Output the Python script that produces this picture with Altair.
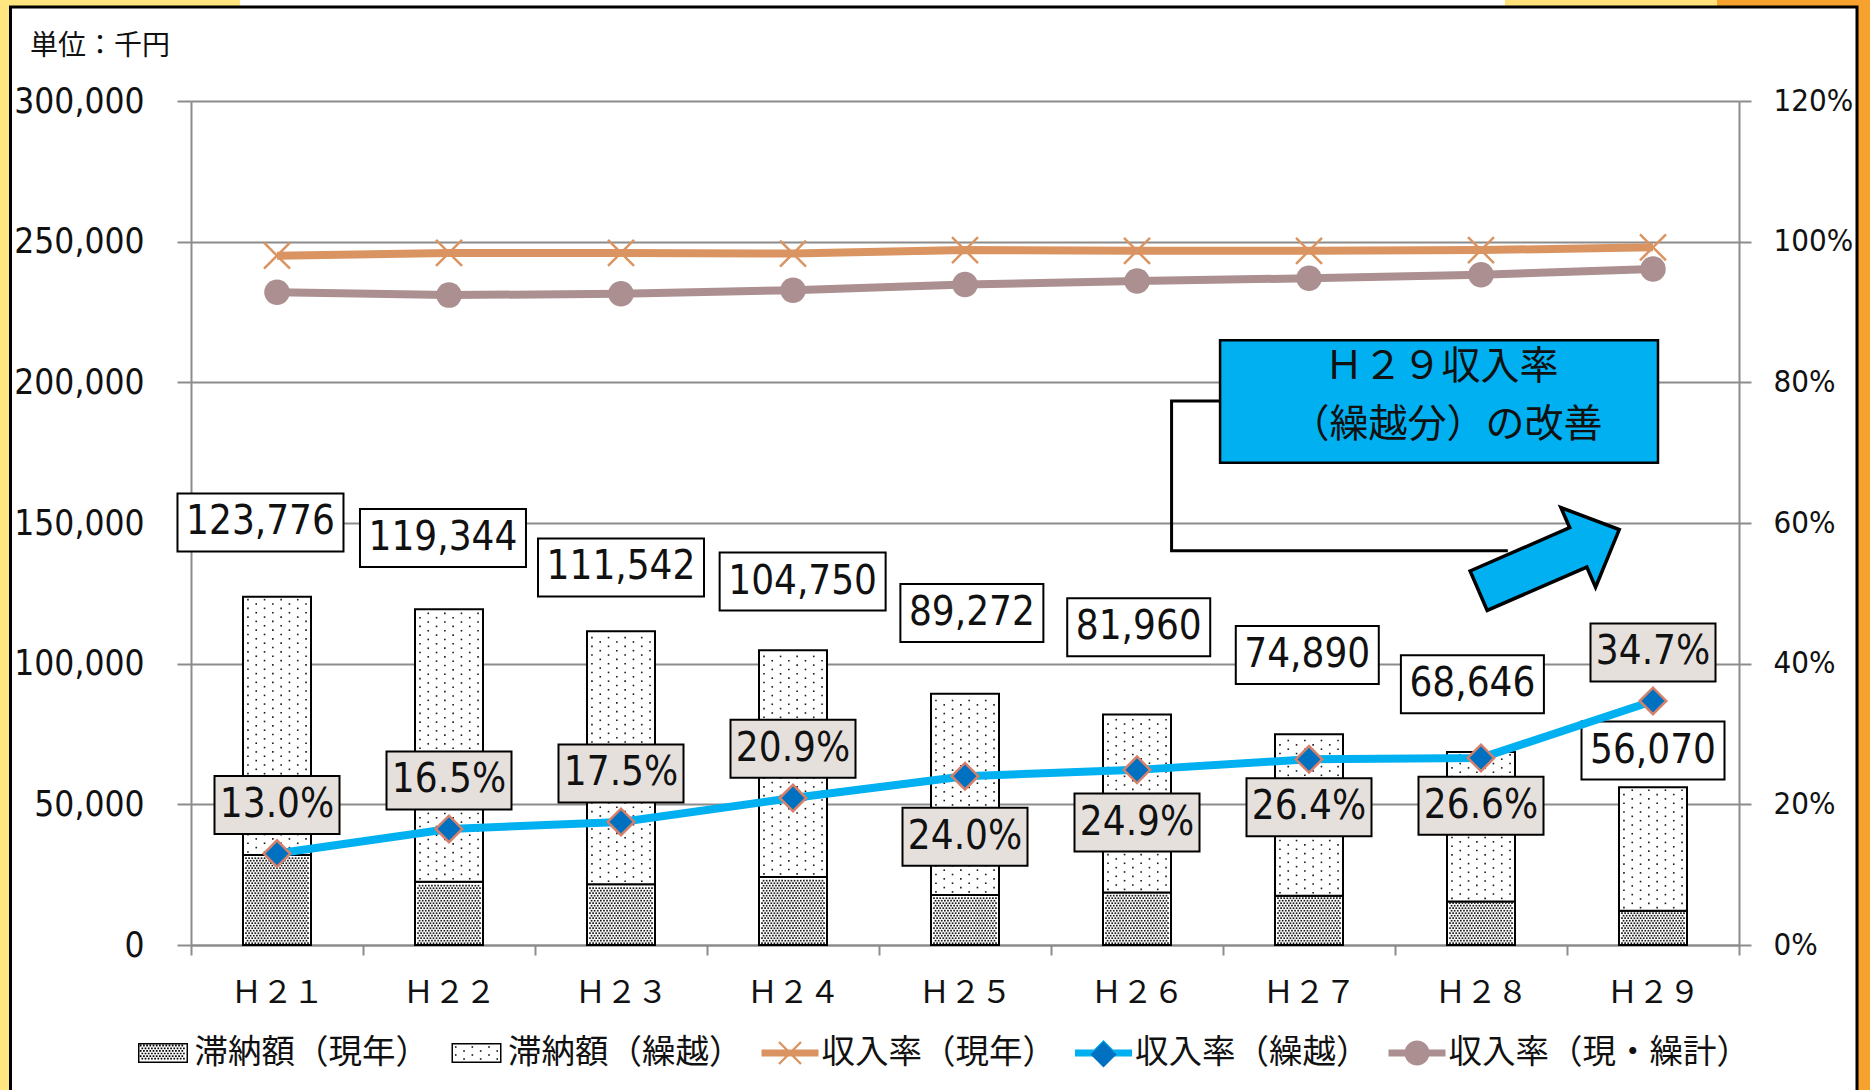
import json
import math
import altair as alt
import pandas as pd

# ---------------- data ----------------
years = ["Ｈ２１", "Ｈ２２", "Ｈ２３", "Ｈ２４", "Ｈ２５", "Ｈ２６", "Ｈ２７", "Ｈ２８", "Ｈ２９"]
totals = [123776, 119344, 111542, 104750, 89272, 81960, 74890, 68646, 56070]
current_arrears = [32000, 22500, 21600, 24200, 17800, 18700, 17500, 15500, 12200]
rate_current = [98.0, 98.4, 98.4, 98.3, 98.8, 98.7, 98.7, 98.8, 99.2]
rate_carried = [13.0, 16.5, 17.5, 20.9, 24.0, 24.9, 26.4, 26.6, 34.7]
rate_combined = [92.8, 92.4, 92.6, 93.1, 93.9, 94.4, 94.8, 95.3, 96.1]
legend_names = ["滞納額（現年）", "滞納額（繰越）", "収入率（現年）", "収入率（繰越）", "収入率（現・繰計）"]
unit_label = "単位：千円"
callout_lines = ["Ｈ２９収入率", "（繰越分）の改善"]

# label placement (annotation layout, data units)
total_label_x = [-0.096, 0.965, 2.0, 3.056, 4.04, 5.01, 5.99, 6.95, 8.0]
total_label_y = [150200, 144700, 134200, 129200, 118000, 112900, 103100, 92700, 69100]
rate_label_y = [0.199, 0.234, 0.244, 0.279, 0.154, 0.174, 0.196, 0.198, 0.416]
callout_x = [6.77, 6.80]
callout_y = [205500, 184800]

# ---------------- layout / style ----------------
n = len(years)
W, H = 1548, 844
PAD = {"left": 191, "top": 101, "right": 131, "bottom": 145}
X_DOMAIN = [-0.5, n - 0.5]
PX_X = W / n                # px per x unit
LEFT_MAX = 300000
RIGHT_MAX = 1.2
PX_L = LEFT_MAX / H         # data per px (left)
PX_R = RIGHT_MAX / H        # data per px (right)

GRID = "#8C8C8C"
TXT = "#111111"
ORANGE = "#DA9462"
BLUE = "#00B0F0"
MAUVE = "#AC8F90"
DIAMOND_FILL = "#0070C0"
DIAMOND_STROKE = "#D5806A"
RATE_BOX = "#E6E0DD"
NUM_FONT = "DejaVu Sans Condensed, Liberation Sans Narrow, Roboto, sans-serif"
CJK_FONT = "Noto Sans CJK JP"

xs = alt.Scale(domain=X_DOMAIN, nice=False, zero=False, padding=0)
ysl = alt.Scale(domain=[0, LEFT_MAX], nice=False, padding=0)
ysr = alt.Scale(domain=[0, RIGHT_MAX], nice=False, padding=0)

x_axis = alt.Axis(
    values=[i - 0.5 for i in range(n + 1)],
    labelExpr=f"datum.value < {n - 1} ? {json.dumps(years, ensure_ascii=False)}[round(datum.value + 0.5)] : ''",
    labelOffset=PX_X / 2, labelFlush=False, labelOverlap=False, labelBound=False,
    grid=False, domainColor=GRID, domainWidth=2, tickColor=GRID, tickWidth=2, tickSize=10,
    labelFont=CJK_FONT, labelFontSize=31, labelColor=TXT, labelPadding=38.5,
    labelBaseline="middle", title=None,
)
left_axis = alt.Axis(
    values=list(range(0, LEFT_MAX + 1, 50000)), labelExpr="format(datum.value, ',')",
    grid=True, gridColor=GRID, gridWidth=2, domainColor=GRID, domainWidth=2, tickColor=GRID,
    tickWidth=2, tickSize=14, labelFont=NUM_FONT, labelFontSize=35, labelColor=TXT,
    labelPadding=33, labelOverlap=False, title=None,
)
right_axis = alt.Axis(
    orient="right", values=[round(i * 0.2, 1) for i in range(7)],
    labelExpr="format(datum.value, '.0%')", grid=False,
    domainColor=GRID, domainWidth=2, tickColor=GRID, tickWidth=2, tickSize=12,
    labelFont=NUM_FONT, labelFontSize=31, labelColor=TXT, labelPadding=22, labelOverlap=False,
    title=None,
)


def X(field):
    return alt.X(field, type="quantitative", scale=xs, axis=x_axis)


def YL(field):
    return alt.Y(field, type="quantitative", scale=ysl, axis=left_axis)


def YR(field):
    return alt.Y(field, type="quantitative", scale=ysr, axis=right_axis)


one = alt.Data(values=[{"a": 1}])


def deco_rect(x0, x1, y0, y1, **kw):
    return alt.Chart(one).mark_rect(**kw).encode(
        x=alt.value(x0), x2=alt.value(x1), y=alt.value(y0), y2=alt.value(y1))


# ---------------- page decoration ----------------
deco = [
    deco_rect(-191, -181, -101, 989, fill="#FFE680"),
    deco_rect(-191, 49, -101, -95, fill="#FFE680"),
    deco_rect(1314, 1526, -101, -95, fill="#FFE27A"),
    deco_rect(1526, 1679, -101, -95, fill="#F7A12F"),
    deco_rect(1666, 1679, -101, 989, fill="#F7A12F"),
    deco_rect(-180.5, 1666, -94, 1000, fill="transparent", stroke="black", strokeWidth=3),
]

# ---------------- bars ----------------
bars_df = pd.DataFrame({"idx": list(range(n)), "g": current_arrears, "total": totals})
bar_cur = alt.Chart(bars_df).mark_bar(size=68, fill="white", stroke="black", strokeWidth=2).encode(
    x=X("idx"), y=YL("g"))
bar_kuri = alt.Chart(bars_df).mark_bar(size=68, fill="white", stroke="black", strokeWidth=2).encode(
    x=X("idx"), y=YL("g"), y2=alt.Y2("total"))

# dot textures inside the bars
dense_rows = []
for i, g in enumerate(current_arrears):
    gpx = g / PX_L
    y = 1.8
    r = 0
    while y < gpx - 1.5:
        x = -31.0 + (r % 2) * 1.55
        while x <= 31.01:
            dense_rows.append({"x": i + x / PX_X, "y": y * PX_L})
            x += 3.1
        y += 2.5
        r += 1
sparse_rows = []
for i, (g, t) in enumerate(zip(current_arrears, totals)):
    y = g / PX_L + 3.0
    top = t / PX_L - 2.5
    r = 0
    while y < top:
        x = -29.05 + (r % 2) * 8.3
        while x <= 30.0:
            sparse_rows.append({"x": i + x / PX_X, "y": y * PX_L})
            x += 16.6
        y += 4.35
        r += 1
dense = alt.Chart(pd.DataFrame(dense_rows)).mark_square(size=2.8, color="#1a1a1a", opacity=1).encode(
    x=X("x"), y=YL("y"))
sparse = alt.Chart(pd.DataFrame(sparse_rows)).mark_square(size=2.6, color="#1a1a1a", opacity=1).encode(
    x=X("x"), y=YL("y"))

# ---------------- total labels ----------------
tl = pd.DataFrame({"x": total_label_x, "y": total_label_y, "total": totals})
tl["hw"] = [(83 if len(f"{t:,}") >= 7 else 71.5) / PX_X for t in totals]
tl["x0"] = tl["x"] - tl["hw"]
tl["x1"] = tl["x"] + tl["hw"]
tl["y0"] = tl["y"] - 29 * PX_L
tl["y1"] = tl["y"] + 29 * PX_L
tl_box = alt.Chart(tl).mark_rect(fill="white", stroke="black", strokeWidth=2).encode(
    x=X("x0"), x2=alt.X2("x1"), y=YL("y0"), y2=alt.Y2("y1"))
tl_txt = alt.Chart(tl).mark_text(font=NUM_FONT, fontSize=40, color=TXT, baseline="middle").encode(
    x=X("x"), y=YL("y"), text=alt.Text("total:Q", format=","))

# ---------------- unit label ----------------
unit_df = pd.DataFrame({"x": [-1.436], "y": [319300], "t": [unit_label]})
unit_txt = alt.Chart(unit_df).mark_text(font=CJK_FONT, fontSize=28, color=TXT, align="left",
                                        baseline="middle").encode(x=X("x"), y=YL("y"), text="t:N")

# ---------------- callout ----------------
conn_df = pd.DataFrame({"o": [0, 1, 2, 3], "x": [5.483, 5.201, 5.201, 7.156],
                        "y": [193400, 193400, 140100, 140100]})
conn = alt.Chart(conn_df).mark_line(color="black", strokeWidth=3).encode(
    x=X("x"), y=YL("y"), order="o:Q")
cbox_df = pd.DataFrame({"x0": [5.483], "x1": [8.029], "y0": [171400], "y1": [215000]})
cbox = alt.Chart(cbox_df).mark_rect(fill=BLUE, stroke="black", strokeWidth=2.5).encode(
    x=X("x0"), x2=alt.X2("x1"), y=YL("y0"), y2=alt.Y2("y1"))
ctxt_df = pd.DataFrame({"x": callout_x, "y": callout_y, "t": callout_lines})
ctxt = alt.Chart(ctxt_df).mark_text(font=CJK_FONT, fontSize=39, color=TXT, baseline="middle").encode(
    x=X("x"), y=YL("y"), text="t:N")
ARROW = "M-1,-0.28L0.417,-0.28L0.417,-0.567L1,0L0.417,0.567L0.417,0.28L-1,0.28Z"
arrow_df = pd.DataFrame({"x": [7.395], "y": [136800]})
arrow = alt.Chart(arrow_df).mark_point(shape=ARROW, size=23500, angle=336.5, filled=True, fill=BLUE,
                                       stroke="black", strokeWidth=3.5, opacity=1).encode(
    x=X("x"), y=YL("y"))

left = alt.layer(*deco, bar_cur, bar_kuri, dense, sparse, tl_box, tl_txt, unit_txt,
                 conn, cbox, ctxt, arrow)


# ---------------- rate lines ----------------
def series_df(vals):
    return pd.DataFrame({"idx": list(range(n)), "v": [v / 100 for v in vals]})


LW = 8
line_cur = alt.Chart(series_df(rate_current)).mark_line(color=ORANGE, strokeWidth=LW).encode(
    x=X("idx"), y=YR("v"))
line_com = alt.Chart(series_df(rate_combined)).mark_line(color=MAUVE, strokeWidth=LW).encode(
    x=X("idx"), y=YR("v"))
line_kur = alt.Chart(series_df(rate_carried)).mark_line(color=BLUE, strokeWidth=LW).encode(
    x=X("idx"), y=YR("v"))
pt_cur = alt.Chart(series_df(rate_current)).mark_point(
    shape="M-1,-1L1,1M-1,1L1,-1", size=676, filled=False, stroke=ORANGE, strokeWidth=2.5,
    opacity=1).encode(x=X("idx"), y=YR("v"))
pt_com = alt.Chart(series_df(rate_combined)).mark_circle(size=650, color=MAUVE, opacity=1).encode(
    x=X("idx"), y=YR("v"))
pt_kur = alt.Chart(series_df(rate_carried)).mark_point(
    shape="diamond", size=700, filled=True, fill=DIAMOND_FILL, stroke=DIAMOND_STROKE,
    strokeWidth=2.5, opacity=1).encode(x=X("idx"), y=YR("v"))

# rate labels
rl = pd.DataFrame({"x": list(range(n)), "y": rate_label_y, "r": [v / 100 for v in rate_carried]})
rl["x0"] = rl["x"] - 62.5 / PX_X
rl["x1"] = rl["x"] + 62.5 / PX_X
rl["y0"] = rl["y"] - 29 * PX_R
rl["y1"] = rl["y"] + 29 * PX_R
rl_box = alt.Chart(rl).mark_rect(fill=RATE_BOX, stroke="black", strokeWidth=2).encode(
    x=X("x0"), x2=alt.X2("x1"), y=YR("y0"), y2=alt.Y2("y1"))
rl_txt = alt.Chart(rl).mark_text(font=NUM_FONT, fontSize=40, color=TXT, baseline="middle").encode(
    x=X("x"), y=YR("y"), text=alt.Text("r:Q", format=".1%"))

# ---------------- legend (custom symbol paths) ----------------
U = 28.5  # px per path unit (symbol 57 px wide)


def area(p):
    return sum(p[i][0] * p[(i + 1) % len(p)][1] - p[(i + 1) % len(p)][0] * p[i][1]
               for i in range(len(p))) / 2


def orient(p, positive=True):
    return p if (area(p) > 0) == positive else p[::-1]


def rect(x0, y0, x1, y1):
    return [(x0, y0), (x1, y0), (x1, y1), (x0, y1)]


def to_path(polys):
    return "".join("M" + "L".join(f"{x / U:.3f},{y / U:.3f}" for x, y in p) + "Z" for p in polys)


def swatch(dense_pattern):
    polys = [orient(rect(-25, -10, 25, 10), True), orient(rect(-23.5, -8.5, 23.5, 8.5), False)]
    if dense_pattern:
        y = -7.3
        r = 0
        while y <= 7.4:
            x = -22.3 + (r % 2) * 1.6
            while x <= 22.4:
                polys.append(orient(rect(x - 0.85, y - 0.85, x + 0.85, y + 0.85), True))
                x += 3.2
            y += 2.6
            r += 1
    else:
        for r, y in enumerate([-6.0, -2.0, 2.0, 6.0]):
            x = -20.75 + (r % 2) * 8.3
            while x <= 22.0:
                polys.append(orient(rect(x - 0.8, y - 0.8, x + 0.8, y + 0.8), True))
                x += 16.6
    return to_path(polys)


def line_with(marker):
    polys = [orient(rect(-28.5, -3.5, 28.5, 3.5), True)]
    if marker == "x":
        a, t = 11.0, 1.2 / math.sqrt(2)
        for s in (1, -1):
            p = [(-a + t, -s * a - s * t), (a + t, s * a - s * t), (a - t, s * a + s * t), (-a - t, -s * a + s * t)]
            polys.append(orient(p, True))
    elif marker == "diamond":
        polys.append(orient([(0, -13), (13, 0), (0, 13), (-13, 0)], True))
    else:
        polys.append(orient([(12.5 * math.cos(2 * math.pi * k / 36), 12.5 * math.sin(2 * math.pi * k / 36))
                             for k in range(36)], True))
    return to_path(polys)


legend_paths = [swatch(True), swatch(False), line_with("x"), line_with("diamond"), line_with("circle")]
legend_colors = ["#000000", "#000000", ORANGE, BLUE, MAUVE]
main_legend = alt.Legend(
    orient="none", legendX=-56.5, legendY=923.5, direction="horizontal", title=None,
    labelFont=CJK_FONT, labelFontSize=33.5, labelColor=TXT, labelLimit=600, labelOffset=3,
    columnPadding=18.5, symbolSize=3249, symbolStrokeWidth=0, symbolOpacity=1, padding=0, zindex=1,
)
leg = alt.Chart(pd.DataFrame({"name": legend_names})).transform_calculate(off="100").mark_point(
    filled=True, opacity=1, clip=True).encode(
    x=X("off"),
    color=alt.Color("name:N", scale=alt.Scale(domain=legend_names, range=legend_colors), legend=main_legend),
    shape=alt.Shape("name:N", scale=alt.Scale(domain=legend_names, range=legend_paths), legend=main_legend),
)
overlay_legend = alt.Legend(
    orient="none", legendX=898, legendY=939, title=None, labelExpr="''", symbolType="diamond",
    symbolFillColor=DIAMOND_FILL, symbolStrokeColor=DIAMOND_STROKE, symbolStrokeWidth=2.5,
    symbolOpacity=1, padding=0, zindex=2, labelFontSize=1, labelOffset=0,
)
leg2 = alt.Chart(pd.DataFrame({"m": ["diamond"]})).transform_calculate(off="100").mark_point(
    filled=True, fill=DIAMOND_FILL, stroke=DIAMOND_STROKE, strokeWidth=2.5, opacity=1, clip=True,
    shape="diamond").encode(
    x=X("off"),
    size=alt.Size("m:O", scale=alt.Scale(domain=["diamond"], range=[676, 676]), legend=overlay_legend),
)

right = alt.layer(line_cur, line_com, line_kur, pt_cur, pt_com, pt_kur, rl_box, rl_txt, leg, leg2)

chart = alt.layer(left, right).resolve_scale(y="independent").properties(
    width=W, height=H, autosize=alt.AutoSizeParams(type="none"), padding=PAD, background="white",
).configure_view(strokeWidth=0)

chart.save("out.html", embed_options={"renderer": "svg", "actions": False})
